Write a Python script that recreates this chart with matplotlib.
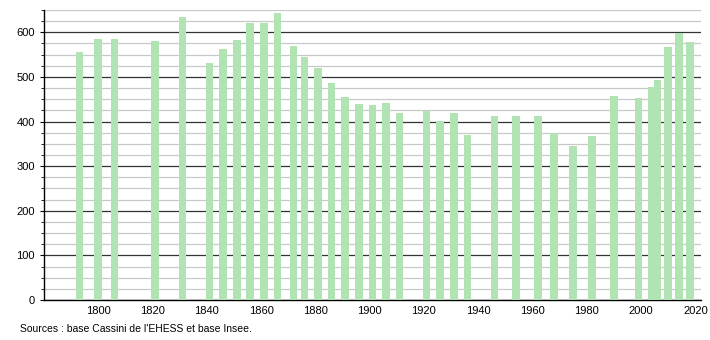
import numpy as np
import matplotlib.pyplot as plt
from matplotlib.ticker import MultipleLocator

plt.rcParams['font.family'] = ['Liberation Sans', 'DejaVu Sans']

# census years and population
years = [1793, 1800, 1806, 1821, 1831, 1841, 1846, 1851, 1856, 1861, 1866,
         1872, 1876, 1881, 1886, 1891, 1896, 1901, 1906, 1911, 1921, 1926,
         1931, 1936, 1946, 1954, 1962, 1968, 1975, 1982, 1990, 1999, 2004,
         2006, 2010, 2014, 2018]
population = [556, 585, 585, 580, 635, 532, 562, 583, 621, 621, 643,
              569, 544, 520, 486, 455, 439, 436, 441, 419, 424, 401,
              419, 369, 412, 412, 412, 375, 345, 368, 457, 452, 477,
              493, 567, 598, 578]

fig = plt.figure(figsize=(7.1, 3.4), dpi=100)
ax = fig.add_axes([0.062, 0.1176, 0.925, 0.853])

ax.bar(years, population, width=2.8, color='#b2e3b2', zorder=3)

ax.set_xlim(1780, 2022)
ax.set_ylim(0, 650)
ax.yaxis.set_major_locator(MultipleLocator(100))
ax.yaxis.set_minor_locator(MultipleLocator(25))
ax.set_xticks(range(1800, 2021, 20))

ax.grid(axis='y', which='major', color='#333333', linewidth=0.9, zorder=1)
ax.grid(axis='y', which='minor', color='#c8c8c8', linewidth=0.9, zorder=1)
ax.set_axisbelow(True)

for s in ['top', 'right']:
    ax.spines[s].set_visible(False)
ax.spines['left'].set_linewidth(1)
ax.spines['bottom'].set_linewidth(1)
ax.tick_params(axis='x', length=0, labelsize=8, pad=4)
ax.tick_params(axis='y', which='major', length=3, labelsize=8)
ax.tick_params(axis='y', which='minor', length=2)

fig.text(0.028, 0.025, "Sources : base Cassini de l'EHESS et base Insee.", fontsize=7.5)

fig.savefig('out.png')
